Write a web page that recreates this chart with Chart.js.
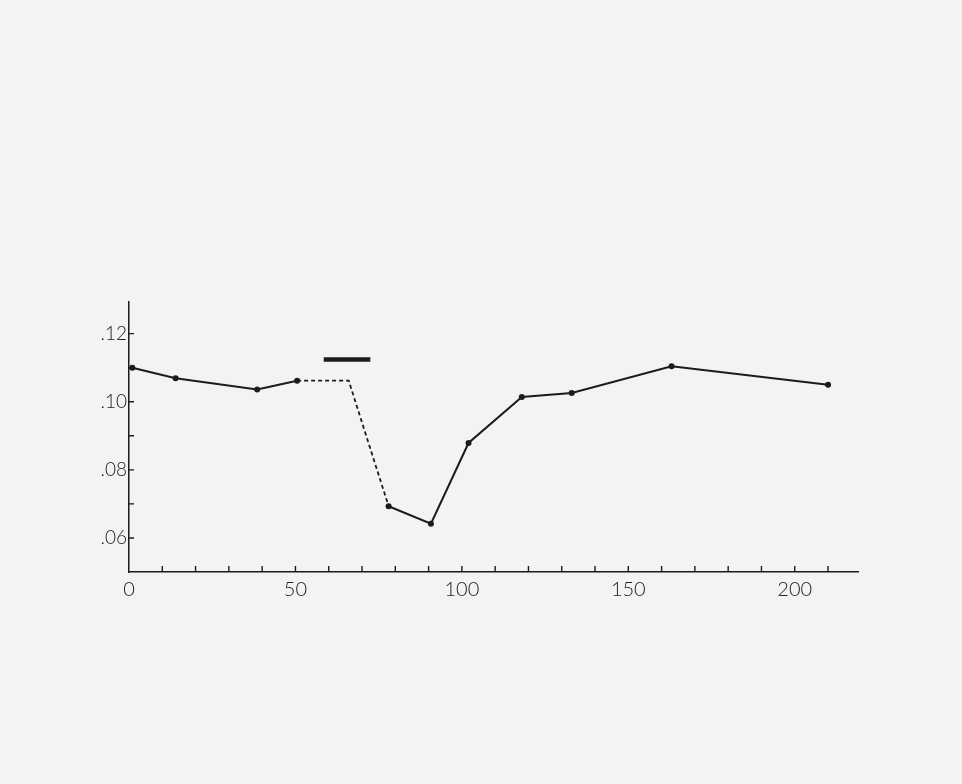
<!DOCTYPE html>
<html>
<head>
<meta charset="utf-8">
<script src="https://cdn.jsdelivr.net/npm/chart.js@4/dist/chart.umd.min.js"></script>
<style>
  html, body { margin: 0; padding: 0; background: #f3f3f1; }
  #wrap { width: 962px; height: 784px; }
</style>
</head>
<body>
<div id="wrap"><canvas id="chart"></canvas></div>
<script>
// Measured series (solid before and after the dashed gap)
const earlyX = [1, 14, 38.5, 50.5];
const earlyY = [0.1100, 0.1069, 0.1036, 0.1062];

const gapX = [50.5, 66, 78];
const gapY = [0.1062, 0.1062, 0.0693];

const lateX = [78, 90.7, 102, 118, 133, 163, 210];
const lateY = [0.0693, 0.0642, 0.0879, 0.1014, 0.1026, 0.1104, 0.1050];

// Horizontal bar above the gap
const barX = [58.5, 72.5];
const barY = [0.1124, 0.1124];

const xTickValues = [0, 10, 20, 30, 40, 50, 60, 70, 80, 90, 100, 110, 120, 130, 140, 150, 160, 170, 180, 190, 200, 210];
const xLabelled = [0, 50, 100, 150, 200];
const yTickValues = [0.05, 0.06, 0.07, 0.08, 0.09, 0.10, 0.11, 0.12];
const yLabelled = [0.06, 0.08, 0.10, 0.12];

const INK = '#1b1b1b';

const toPoints = (xs, ys) => xs.map((x, i) => ({ x, y: ys[i] }));

// --- ticks drawn inward from the axes ---
const inwardTicks = {
  id: 'inwardTicks',
  afterDatasetsDraw(chart) {
    const { ctx, chartArea, scales } = chart;
    ctx.save();
    ctx.strokeStyle = INK;
    ctx.lineWidth = 1.4;
    ctx.beginPath();
    for (const v of xTickValues) {
      if (v === 0) continue;
      const px = scales.x.getPixelForValue(v);
      ctx.moveTo(px, chartArea.bottom);
      ctx.lineTo(px, chartArea.bottom - 6);
    }
    for (const v of yTickValues) {
      if (v === 0.05) continue;
      const py = scales.y.getPixelForValue(v);
      ctx.moveTo(chartArea.left, py);
      ctx.lineTo(chartArea.left + 5, py);
    }
    ctx.stroke();
    ctx.restore();
  },
};

const lineStyle = {
  showLine: true,
  borderColor: INK,
  backgroundColor: INK,
  borderWidth: 2,
  pointRadius: 3,
  pointBackgroundColor: INK,
  pointBorderWidth: 0,
  tension: 0,
};

new Chart(document.getElementById('chart'), {
  type: 'scatter',
  data: {
    datasets: [
      { ...lineStyle, data: toPoints(earlyX, earlyY) },
      { ...lineStyle, data: toPoints(gapX, gapY), pointRadius: 0, borderWidth: 1.8, borderDash: [4, 3] },
      { ...lineStyle, data: toPoints(lateX, lateY) },
      { ...lineStyle, data: toPoints(barX, barY), pointRadius: 0, borderWidth: 4.5, borderCapStyle: 'butt' },
    ],
  },
  options: {
    responsive: true,
    maintainAspectRatio: false,
    animation: false,
    layout: { padding: { top: 302, right: 104, bottom: 0, left: 0 } },
    plugins: {
      legend: { display: false },
      tooltip: { enabled: false },
    },
    scales: {
      x: {
        type: 'linear',
        min: 0,
        max: 219,
        afterFit: (s) => { s.height = 212; },
        afterBuildTicks: (s) => { s.ticks = xTickValues.map(value => ({ value })); },
        grid: { display: false, drawTicks: false },
        border: { display: true, color: INK, width: 1.5 },
        ticks: {
          padding: 6,
          autoSkip: false,
          maxRotation: 0,
          color: '#222',
          font: { family: 'Lato', size: 20, weight: 300 },
          callback: (v) => xLabelled.includes(v) ? String(v) : '',
        },
      },
      y: {
        type: 'linear',
        min: 0.05,
        max: 0.1293,
        afterFit: (s) => { s.width = 129; },
        afterBuildTicks: (s) => { s.ticks = yTickValues.map(value => ({ value })); },
        grid: { display: false, drawTicks: false },
        border: { display: true, color: INK, width: 1.5 },
        ticks: {
          padding: 2,
          autoSkip: false,
          color: '#222',
          font: { family: 'Lato', size: 19, weight: 300 },
          callback: (v) => yLabelled.some(t => Math.abs(t - v) < 1e-9) ? v.toFixed(2).replace(/^0/, '') : '',
        },
      },
    },
  },
  plugins: [inwardTicks],
});
</script>
</body>
</html>
